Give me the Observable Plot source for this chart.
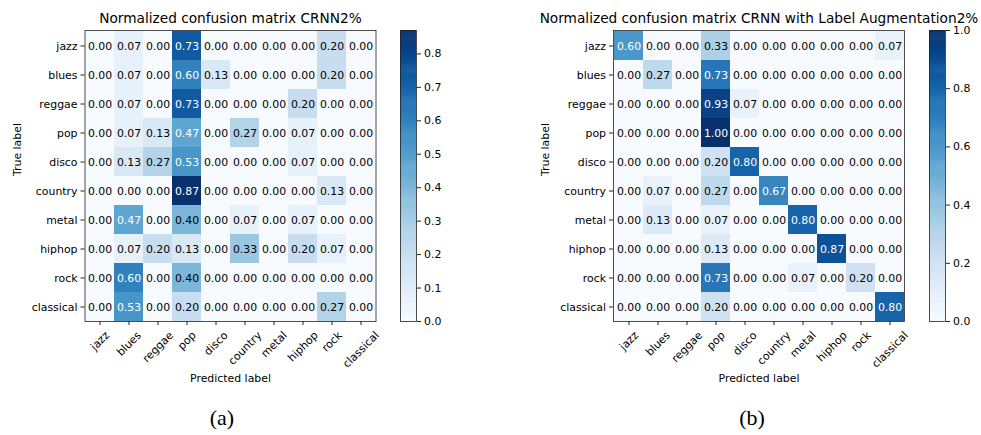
<!DOCTYPE html>
<html>
<head>
<meta charset="utf-8">
<script src="https://cdn.jsdelivr.net/npm/d3@7"></script>
<script src="https://cdn.jsdelivr.net/npm/@observablehq/plot@0.6"></script>
<style>
  html, body { margin: 0; padding: 0; background: #fff; }
  #chart { position: relative; width: 981px; height: 435px; overflow: hidden; background: #fff; }
  #chart > svg, #chart > div { position: absolute; top: 0; }
  .cap { font-family: "Liberation Serif", "DejaVu Serif", serif; font-size: 22px; color: #000; width: 60px; text-align: center; }
</style>
</head>
<body>
<div id="chart"></div>
<script>
const genres = ["jazz", "blues", "reggae", "pop", "disco", "country", "metal", "hiphop", "rock", "classical"];

const titleA = "Normalized confusion matrix CRNN2%";
const titleB = "Normalized confusion matrix CRNN with Label Augmentation2%";
const xLabel = "Predicted label";
const yLabel = "True label";
const captions = ["(a)", "(b)"];

// rows = true label, columns = predicted label
const cmCRNN = [
  [0.00, 0.07, 0.00, 0.73, 0.00, 0.00, 0.00, 0.00, 0.20, 0.00],
  [0.00, 0.07, 0.00, 0.60, 0.13, 0.00, 0.00, 0.00, 0.20, 0.00],
  [0.00, 0.07, 0.00, 0.73, 0.00, 0.00, 0.00, 0.20, 0.00, 0.00],
  [0.00, 0.07, 0.13, 0.47, 0.00, 0.27, 0.00, 0.07, 0.00, 0.00],
  [0.00, 0.13, 0.27, 0.53, 0.00, 0.00, 0.00, 0.07, 0.00, 0.00],
  [0.00, 0.00, 0.00, 0.87, 0.00, 0.00, 0.00, 0.00, 0.13, 0.00],
  [0.00, 0.47, 0.00, 0.40, 0.00, 0.07, 0.00, 0.07, 0.00, 0.00],
  [0.00, 0.07, 0.20, 0.13, 0.00, 0.33, 0.00, 0.20, 0.07, 0.00],
  [0.00, 0.60, 0.00, 0.40, 0.00, 0.00, 0.00, 0.00, 0.00, 0.00],
  [0.00, 0.53, 0.00, 0.20, 0.00, 0.00, 0.00, 0.00, 0.27, 0.00]
];

const cmAug = [
  [0.60, 0.00, 0.00, 0.33, 0.00, 0.00, 0.00, 0.00, 0.00, 0.07],
  [0.00, 0.27, 0.00, 0.73, 0.00, 0.00, 0.00, 0.00, 0.00, 0.00],
  [0.00, 0.00, 0.00, 0.93, 0.07, 0.00, 0.00, 0.00, 0.00, 0.00],
  [0.00, 0.00, 0.00, 1.00, 0.00, 0.00, 0.00, 0.00, 0.00, 0.00],
  [0.00, 0.00, 0.00, 0.20, 0.80, 0.00, 0.00, 0.00, 0.00, 0.00],
  [0.00, 0.07, 0.00, 0.27, 0.00, 0.67, 0.00, 0.00, 0.00, 0.00],
  [0.00, 0.13, 0.00, 0.07, 0.00, 0.00, 0.80, 0.00, 0.00, 0.00],
  [0.00, 0.00, 0.00, 0.13, 0.00, 0.00, 0.00, 0.87, 0.00, 0.00],
  [0.00, 0.00, 0.00, 0.73, 0.00, 0.00, 0.07, 0.00, 0.20, 0.00],
  [0.00, 0.00, 0.00, 0.20, 0.00, 0.00, 0.00, 0.00, 0.00, 0.80]
];

const cbTicksA = [0.0, 0.1, 0.2, 0.3, 0.4, 0.5, 0.6, 0.7, 0.8];
const cbTicksB = [0.0, 0.2, 0.4, 0.6, 0.8, 1.0];

const FONT = "DejaVu Sans";
const FS = 10.9;
const SIDE = 291;   // matrix side in px
const TOP = 30;

const ctx = document.createElement("canvas").getContext("2d");
ctx.font = `${FS}px "${FONT}"`;
const textW = s => ctx.measureText(s).width;

function panel(matrix, title, marginLeft, width) {
  const vmax = d3.max(matrix.flat());
  const data = matrix.flatMap((row, i) => row.map((v, j) => ({truth: genres[i], pred: genres[j], v})));
  const color = {type: "linear", scheme: "blues", domain: [0, vmax]};
  const h = FS * 1.16;
  const xTickLabels = genres.map(g => Plot.text([g], {
    x: d => d, frameAnchor: "bottom", rotate: -45, textAnchor: "middle", lineAnchor: "middle",
    dy: 7.5 + (textW(g) + h) * Math.SQRT1_2 / 2, fontSize: FS, fill: "black"
  }));
  return Plot.plot({
    width, height: 400,
    marginLeft, marginTop: TOP, marginRight: width - marginLeft - SIDE, marginBottom: 400 - TOP - SIDE,
    x: {domain: genres, padding: 0},
    y: {domain: genres, padding: 0},
    color,
    style: {background: "transparent", overflow: "visible", fontFamily: FONT, fontSize: FS + "px", color: "#000"},
    marks: [
      Plot.cell(data, {x: "pred", y: "truth", fill: "v"}),
      Plot.text(data.filter(d => d.v > vmax / 2), {x: "pred", y: "truth", text: d => d.v.toFixed(2), fill: "white", fontSize: FS}),
      Plot.text(data.filter(d => d.v <= vmax / 2), {x: "pred", y: "truth", text: d => d.v.toFixed(2), fill: "black", fontSize: FS}),
      Plot.frame({stroke: "#222", strokeWidth: 0.8}),
      Plot.axisY({tickSize: 4, tickPadding: 3.5, fontSize: FS, label: null, stroke: "#222", fill: "black"}),
      Plot.axisX({tickSize: 4, tickFormat: () => "", label: null, stroke: "#222"}),
      ...xTickLabels,
      Plot.text([title], {frameAnchor: "top", dy: -8, lineAnchor: "bottom", fontSize: 13.7, fill: "black"}),
      Plot.text([yLabel], {frameAnchor: "left", dx: -68, rotate: -90, fontSize: FS, fill: "black"}),
      Plot.text([xLabel], {frameAnchor: "bottom", dy: 60, fontSize: FS, fill: "black"})
    ]
  });
}

function colorbar(matrix, ticks) {
  const vmax = d3.max(matrix.flat());
  const n = 300, step = vmax / n;
  const stops = d3.range(n).map(i => i * step);
  return Plot.plot({
    width: 60, height: 340,
    marginLeft: 0, marginRight: 44, marginTop: TOP, marginBottom: 340 - TOP - SIDE,
    x: {domain: [0, 1], axis: null},
    y: {domain: [0, vmax]},
    color: {type: "linear", scheme: "blues", domain: [0, vmax]},
    style: {background: "transparent", overflow: "visible", fontFamily: FONT, fontSize: FS + "px", color: "#000"},
    marks: [
      Plot.rect(stops, {x1: 0, x2: 1, y1: d => d, y2: d => Math.min(vmax, d + step * 1.6), fill: d => d}),
      Plot.frame({stroke: "#222", strokeWidth: 0.8}),
      Plot.axisY(ticks, {anchor: "right", tickSize: 4, tickPadding: 3.5, tickFormat: d3.format(".1f"), fontSize: FS, label: null, stroke: "#222", fill: "black"})
    ]
  });
}

const root = document.getElementById("chart");
const place = (el, left) => { el.style.left = left + "px"; root.appendChild(el); };

place(panel(cmCRNN, titleA, 84.5, 400), 0);
place(panel(cmAug, titleB, 83, 451), 530);
place(colorbar(cmCRNN, cbTicksA), 400);
place(colorbar(cmAug, cbTicksB), 929);

[[captions[0], 222], [captions[1], 752]].forEach(([t, cx]) => {
  const d = document.createElement("div");
  d.className = "cap";
  d.textContent = t;
  d.style.left = (cx - 30) + "px";
  d.style.top = "405px";
  root.appendChild(d);
});
</script>
</body>
</html>
